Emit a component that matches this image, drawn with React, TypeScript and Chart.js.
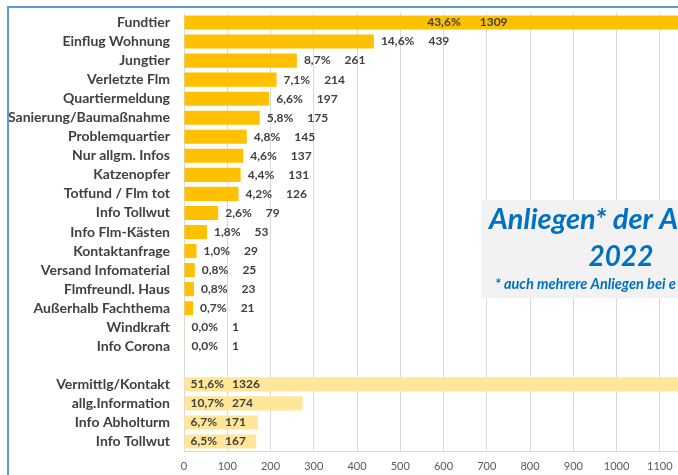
import React, { useEffect, useRef } from "react";
import { Chart, registerables } from "chart.js";

Chart.register(...registerables);

const mainCategories = [
  "Fundtier", "Einflug Wohnung", "Jungtier", "Verletzte Flm", "Quartiermeldung",
  "Sanierung/Baumaßnahme", "Problemquartier", "Nur allgm. Infos", "Katzenopfer",
  "Totfund / Flm tot", "Info Tollwut", "Info Flm-Kästen", "Kontaktanfrage",
  "Versand Infomaterial", "Flmfreundl. Haus", "Außerhalb Fachthema", "Windkraft", "Info Corona",
];
const mainValues = [1309, 439, 261, 214, 197, 175, 145, 137, 131, 126, 79, 53, 29, 25, 23, 21, 1, 1];
const mainPercents = [43.6, 14.6, 8.7, 7.1, 6.6, 5.8, 4.8, 4.6, 4.4, 4.2, 2.6, 1.8, 1.0, 0.8, 0.8, 0.7, 0.0, 0.0];

const contactCategories = ["Vermittlg/Kontakt", "allg.Information", "Info Abholturm", "Info Tollwut"];
const contactValues = [1326, 274, 171, 167];
const contactPercents = [51.6, 10.7, 6.7, 6.5];

const titleLine1 = "Anliegen* der A";
const titleLine2 = "2022";
const subtitle = "* auch mehrere Anliegen bei e";

const xTickStep = 100;
const xVisibleMax = 1142;

const FONT = "Lato, 'Open Sans', sans-serif";

const fmtPct = (v: number) => v.toFixed(1).replace(".", ",") + "%";

export default function App() {
  const ref = useRef<HTMLCanvasElement | null>(null);

  useEffect(() => {
    const canvas = ref.current;
    if (!canvas) return;

    const labels = [...mainCategories, "", ...contactCategories];
    const gap = labels.length - contactCategories.length;
    const d1 = labels.map((_, i) => (i < mainValues.length ? mainValues[i] : null));
    const d2 = labels.map((_, i) => (i >= gap ? contactValues[i - gap] : null));

    const labelPlugin = {
      id: "labels",
      afterDatasetsDraw(chart: any) {
        const ctx = chart.ctx;
        const area = chart.chartArea;
        ctx.save();
        ctx.font = `bold 12px ${FONT}`;
        ctx.fillStyle = "#404040";
        ctx.textBaseline = "middle";
        ctx.textAlign = "left";
        const m1 = chart.getDatasetMeta(0);
        m1.data.forEach((bar: any, i: number) => {
          if (i >= mainValues.length) return;
          const p = fmtPct(mainPercents[i]);
          const c = String(mainValues[i]);
          const pw = ctx.measureText(p).width;
          const cw = ctx.measureText(c).width;
          if (bar.x > area.right) {
            const g = 19;
            const total = pw + g + cw;
            const cx = (bar.base + bar.x) / 2;
            const sx = cx - total / 2;
            ctx.fillText(p, sx, bar.y);
            ctx.fillText(c, sx + pw + g, bar.y);
          } else {
            const sx = bar.x + 7;
            ctx.fillText(p, sx, bar.y);
            ctx.fillText(c, sx + pw + 14, bar.y);
          }
        });
        const m2 = chart.getDatasetMeta(1);
        m2.data.forEach((bar: any, i: number) => {
          if (i < gap) return;
          const k = i - gap;
          const p = fmtPct(contactPercents[k]);
          const c = String(contactValues[k]);
          const pw = ctx.measureText(p).width;
          const sx = bar.base + 6;
          ctx.fillText(p, sx, bar.y);
          ctx.fillText(c, sx + pw + 8, bar.y);
        });
        ctx.restore();
      },
      afterDraw(chart: any) {
        const ctx = chart.ctx;
        ctx.save();
        // title box
        ctx.fillStyle = "#F2F2F2";
        ctx.fillRect(481, 200, 300, 98);
        ctx.fillStyle = "#0070C0";
        ctx.textBaseline = "alphabetic";
        ctx.font = `italic bold 29px ${FONT}`;
        ctx.textAlign = "left";
        ctx.fillText(titleLine1, 489, 229);
        ctx.textAlign = "center";
        ctx.font = `italic bold 28px ${FONT}`;
        ctx.fillText(titleLine2, 621, 266);
        ctx.textAlign = "left";
        ctx.font = `italic bold 14.5px ${FONT}`;
        ctx.fillText(subtitle, 495, 289);
        // outer frame
        ctx.strokeStyle = "#5B9BD5";
        ctx.lineWidth = 2;
        ctx.beginPath();
        ctx.moveTo(8, chart.height + 5);
        ctx.lineTo(8, 7);
        ctx.lineTo(chart.width + 5, 7);
        ctx.stroke();
        ctx.restore();
      },
    };

    const chart = new Chart(canvas, {
      type: "bar",
      data: {
        labels,
        datasets: [
          {
            data: d1,
            backgroundColor: "#FFC000",
            borderWidth: 0,
            grouped: false,
            barPercentage: 0.74,
            categoryPercentage: 1,
          },
          {
            data: d2,
            backgroundColor: "#FFE699",
            borderWidth: 0,
            grouped: false,
            barPercentage: 0.74,
            categoryPercentage: 1,
          },
        ],
      },
      options: {
        indexAxis: "y",
        animation: false,
        responsive: false,
        maintainAspectRatio: false,
        layout: { padding: { top: 13, right: 0, left: 0, bottom: 0 } },
        plugins: {
          legend: { display: false },
          tooltip: { enabled: false },
        },
        scales: {
          x: {
            type: "linear",
            min: 0,
            max: xVisibleMax,
            grid: { color: "#D9D9D9", drawTicks: false, lineWidth: 1 },
            border: { color: "#D9D9D9" },
            ticks: {
              stepSize: xTickStep,
              includeBounds: false,
              padding: 9,
              color: "#595959",
              font: { family: FONT, size: 11 },
              maxRotation: 0,
              callback: (v: any) => String(v),
            },
            afterFit(scale: any) {
              scale.height = 24;
              scale.paddingLeft = 0;
              scale.paddingRight = 0;
            },
          },
          y: {
            type: "category",
            grid: { display: false, drawTicks: false },
            border: { color: "#D9D9D9" },
            ticks: {
              autoSkip: false,
              padding: 14,
              color: "#404040",
              font: { family: FONT, size: 14, weight: "bold" },
            },
            afterFit(scale: any) {
              scale.width = 184;
              scale.paddingTop = 0;
              scale.paddingBottom = 0;
            },
          },
        },
      },
      plugins: [labelPlugin],
    } as any);

    return () => chart.destroy();
  }, []);

  return (
    <div style={{ position: "fixed", left: 0, top: 0, width: 678, height: 475, overflow: "hidden", background: "#fff" }}>
      <canvas ref={ref} width={678} height={475} style={{ width: 678, height: 475, display: "block" }} />
    </div>
  );
}
